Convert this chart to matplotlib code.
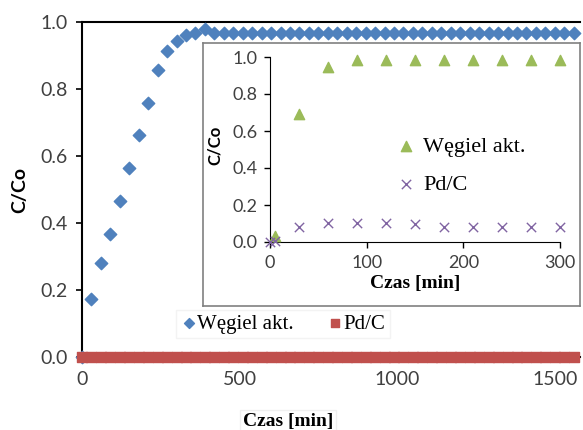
import numpy as np
import matplotlib
matplotlib.use("Agg")
import matplotlib.pyplot as plt

# main chart: long run, every 30 min
czas = list(range(0, 1561, 30))
wegiel = [0.0, 0.172, 0.28, 0.367, 0.467, 0.565, 0.662, 0.757, 0.856, 0.913,
          0.943, 0.962, 0.968, 0.978, 0.966, 0.968, 0.967, 0.968, 0.967, 0.968,
          0.967, 0.968, 0.967, 0.968, 0.967, 0.968, 0.967, 0.968, 0.967, 0.968,
          0.967, 0.968, 0.967, 0.968, 0.967, 0.968, 0.967, 0.968, 0.967, 0.968,
          0.967, 0.968, 0.967, 0.968, 0.967, 0.968, 0.967, 0.968, 0.967, 0.968,
          0.967, 0.968, 0.967]
pdc = [0.0] * len(czas)

# inset: first 300 min
czas_w = [5, 30, 60, 90, 120, 150, 180, 210, 240, 270, 300]
wegiel_w = [0.03, 0.69, 0.944, 0.984, 0.984, 0.984, 0.984, 0.984, 0.984, 0.984, 0.984]
czas_p = [0, 5, 30, 60, 90, 120, 150, 180, 210, 240, 270, 300]
pdc_p = [0.0, 0.005, 0.079, 0.101, 0.103, 0.101, 0.095, 0.083, 0.079, 0.079, 0.079, 0.079]

W, H = 583, 430
tick_col = "#404040"
serif = "Liberation Serif"
sans = "Lato"

fig = plt.figure(figsize=(W / 100, H / 100), dpi=100)

ax = fig.add_axes([82 / W, (H - 357) / H, (580 - 82) / W, (357 - 22) / H])
ax.scatter(czas, wegiel, marker="D", s=40, color="#4F81BD", zorder=3, clip_on=False,
           label="Węgiel akt.")
ax.scatter(czas, pdc, marker="s", s=45, color="#C0504D", zorder=4, clip_on=False,
           label="Pd/C")
ax.set_xlim(0, 1580)
ax.set_ylim(0, 1.0)
ax.set_xticks([0, 500, 1000, 1500])
ax.set_yticks([0, 0.2, 0.4, 0.6, 0.8, 1.0])
ax.set_yticklabels(["0.0", "0.2", "0.4", "0.6", "0.8", "1.0"])
ax.tick_params(labelsize=14, colors="black", labelcolor=tick_col, length=4, width=1.2, pad=6)
for lab in ax.get_xticklabels() + ax.get_yticklabels():
    lab.set_family(sans)
ax.spines["right"].set_visible(False)
for s in ["left", "bottom", "top"]:
    ax.spines[s].set_linewidth(1.5)
fig.text(20 / W, (H - 190) / H, "C/Co", rotation=90, ha="center", va="center",
         fontsize=14, fontweight="bold", family=sans, color="black")
fig.text(288 / W, (H - 413) / H, "Czas [min]", ha="center", va="top",
         fontsize=14, fontweight="bold", family=serif,
         bbox=dict(facecolor="white", edgecolor="#f0f0f0", pad=2))
leg = ax.legend(loc="center", bbox_to_anchor=((283 - 82) / (580 - 82), (357 - 324) / 335),
                ncol=2, frameon=True, prop={"family": serif, "size": 15},
                handletextpad=0.0, columnspacing=1.6, handlelength=0.8, markerscale=0.8,
                borderpad=0.2)
leg.get_frame().set_edgecolor("#f0f0f0")
leg.get_frame().set_boxstyle("square", pad=0)

# inset frame
fr = fig.add_axes([203 / W, (H - 306) / H, (580 - 203) / W, (306 - 43) / H])
fr.set_xticks([])
fr.set_yticks([])
fr.set_facecolor("white")
for s in fr.spines.values():
    s.set_color("#808080")
    s.set_linewidth(1.2)

ins = fig.add_axes([270 / W, (H - 242) / H, (560 - 270) / W, (242 - 57) / H])
ins.scatter(czas_w, wegiel_w, marker="^", s=55, color="#9BBB59", zorder=3, clip_on=False,
            label="Węgiel akt.")
ins.scatter(czas_p, pdc_p, marker="x", s=45, color="#8064A2", linewidths=1.0, zorder=3,
            clip_on=False, label="Pd/C")
ins.set_xlim(0, 300)
ins.set_ylim(0, 1.0)
ins.set_xticks([0, 100, 200, 300])
ins.set_yticks([0, 0.2, 0.4, 0.6, 0.8, 1.0])
ins.set_yticklabels(["0.0", "0.2", "0.4", "0.6", "0.8", "1.0"])
ins.tick_params(labelsize=13, labelcolor=tick_col, length=4, width=1, pad=5)
for lab in ins.get_xticklabels() + ins.get_yticklabels():
    lab.set_family(sans)
ins.spines["right"].set_visible(False)
ins.spines["top"].set_visible(False)
ins.set_xlabel("Czas [min]", fontsize=14, fontweight="bold", family=serif, labelpad=3)
fig.text(215 / W, (H - 145) / H, "C/Co", rotation=90, ha="center", va="center",
         fontsize=12, fontweight="bold", family=sans)
ins.legend(loc="upper left", bbox_to_anchor=(0.36, 0.68), frameon=False,
           prop={"family": serif, "size": 16}, handletextpad=0.3, labelspacing=0.8,
           handlelength=1.0)

fig.savefig("out.png", dpi=100)
